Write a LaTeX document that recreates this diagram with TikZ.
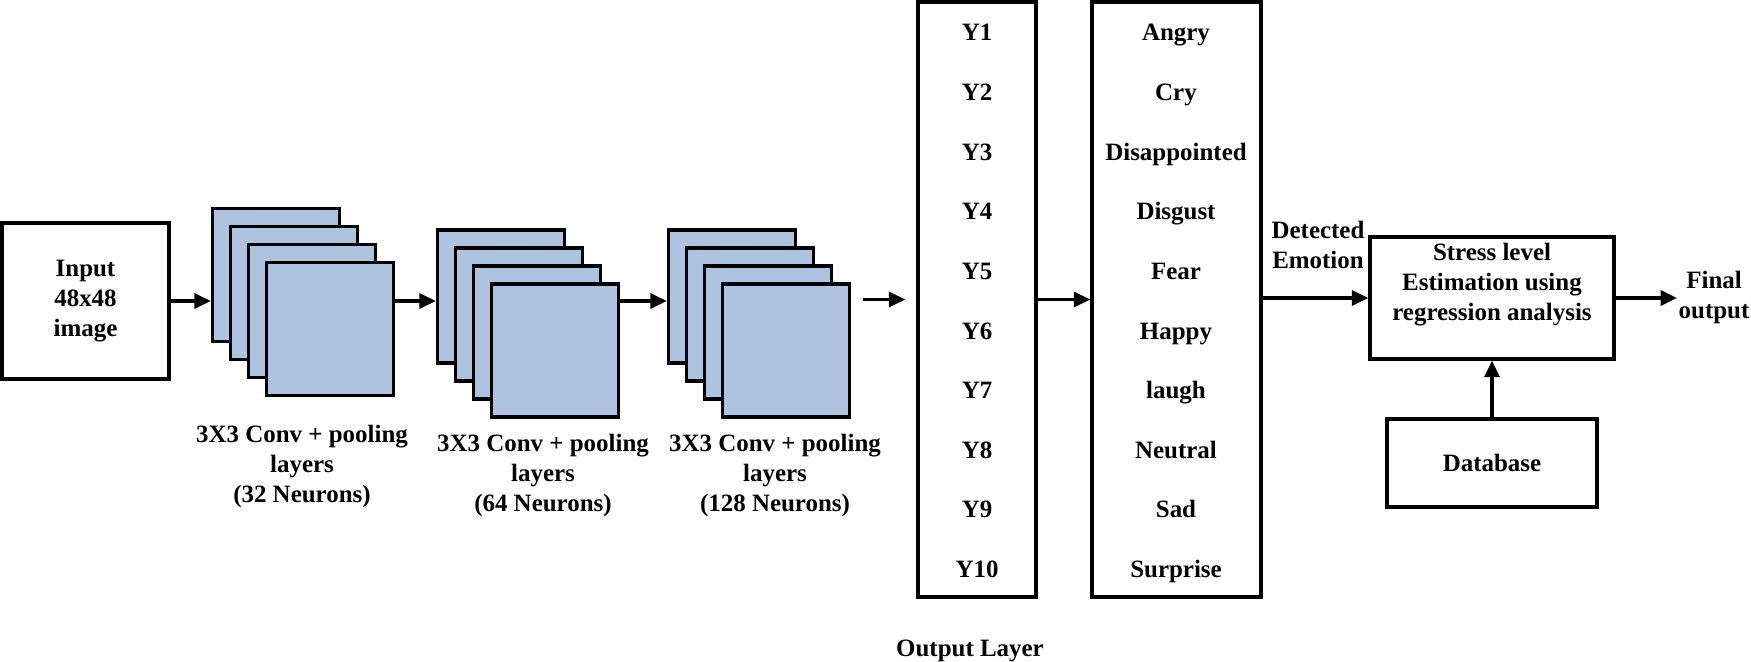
\documentclass[tikz,border=0pt]{standalone}
\usepackage{fontspec}
\setmainfont{Liberation Serif}
\usetikzlibrary{arrows.meta}
\definecolor{mapblue}{RGB}{174,195,224}

\begin{document}
\begin{tikzpicture}[
                x=0.02cm, y=-0.02cm,
                font=\fontsize{14.2}{17}\selectfont\bfseries,
                line width=1.9pt,
                block/.style={rectangle, draw, align=center},
                fmap/.style={rectangle, draw, fill=mapblue, minimum width=2.54cm, minimum height=2.66cm},
                txt/.style={inner sep=0pt, align=center},
                arrow/.style={-{Triangle[length=3.3mm, width=3mm]}}
            ]
                \useasboundingbox (0,0) rectangle (1751,662);

                % Input
                \node[block, minimum width=3.34cm, minimum height=3.12cm] (in) at (85.5,301) {Input\\48x48\\image};

                % Conv + pooling stacks
                \foreach \s/\cx/\cy in {1/276/275, 2/501/296.5, 3/732/296.5}
                    \foreach \l in {1,...,4}
                        \node[fmap] (map\s-\l) at ({\cx+18*(\l-1)},{\cy+18*(\l-1)}) {};

                \node[txt, anchor=north] (lab1) at (302,424) {3X3 Conv + pooling\\layers\\(32 Neurons)};
                \node[txt, anchor=north] (lab2) at (543,433) {3X3 Conv + pooling\\layers\\(64 Neurons)};
                \node[txt, anchor=north] (lab3) at (775,433) {3X3 Conv + pooling\\layers\\(128 Neurons)};

                % Output layer and emotions
                \node[block, minimum width=2.36cm, minimum height=11.9cm] (out) at (977,299.5) {};
                \node[block, minimum width=3.38cm, minimum height=11.9cm] (emo) at (1176.5,299.5) {};
                \foreach \emotion [count=\i] in {Angry, Cry, Disappointed, Disgust, Fear, Happy, laugh, Neutral, Sad, Surprise} {
                    \node[txt, anchor=base] (y\i) at (977,{41+59.6*(\i-1)}) {Y\i};
                    \node[txt, anchor=base] (e\i) at (1176,{41+59.6*(\i-1)}) {\emotion};
                }
                \node[txt, anchor=base] (outlab) at (970,656) {Output Layer};

                % Stress estimation
                \node[block, minimum width=4.88cm, minimum height=2.44cm] (stress) at (1492,298) {};
                \node[txt, anchor=north] (stresstxt) at (1492,242) {Stress level\\Estimation using\\regression analysis};
                \node[block, minimum width=4.2cm, minimum height=1.76cm] (db) at (1492,463) {Database};
                \node[txt, anchor=north] (det) at (1318,220) {Detected\\Emotion};
                \node[txt, anchor=north west] (final) at (1677,270) {Final\\output};

                % Edges
                \draw[arrow] (in.east) -- (in.east -| map1-1.west);
                \draw[arrow] (map1-4.east |- in.east) -- (map1-4.east |- in.east -| map2-1.west);
                \draw[arrow] (map2-4.east |- in.east) -- (map2-4.east |- in.east -| map3-1.west);
                \draw[arrow, shorten <=0.24cm, shorten >=0.22cm] (map3-4.east |- out.west) -- (out.west);
                \draw[arrow] (out.east) -- (emo.west);
                \draw[arrow] (emo.east |- stress.west) -- (stress.west);
                \draw[arrow] (stress.east) -- (stress.east -| final.west);
                \draw[arrow] (db.north) -- (stress.south);
            \end{tikzpicture}
\end{document}
